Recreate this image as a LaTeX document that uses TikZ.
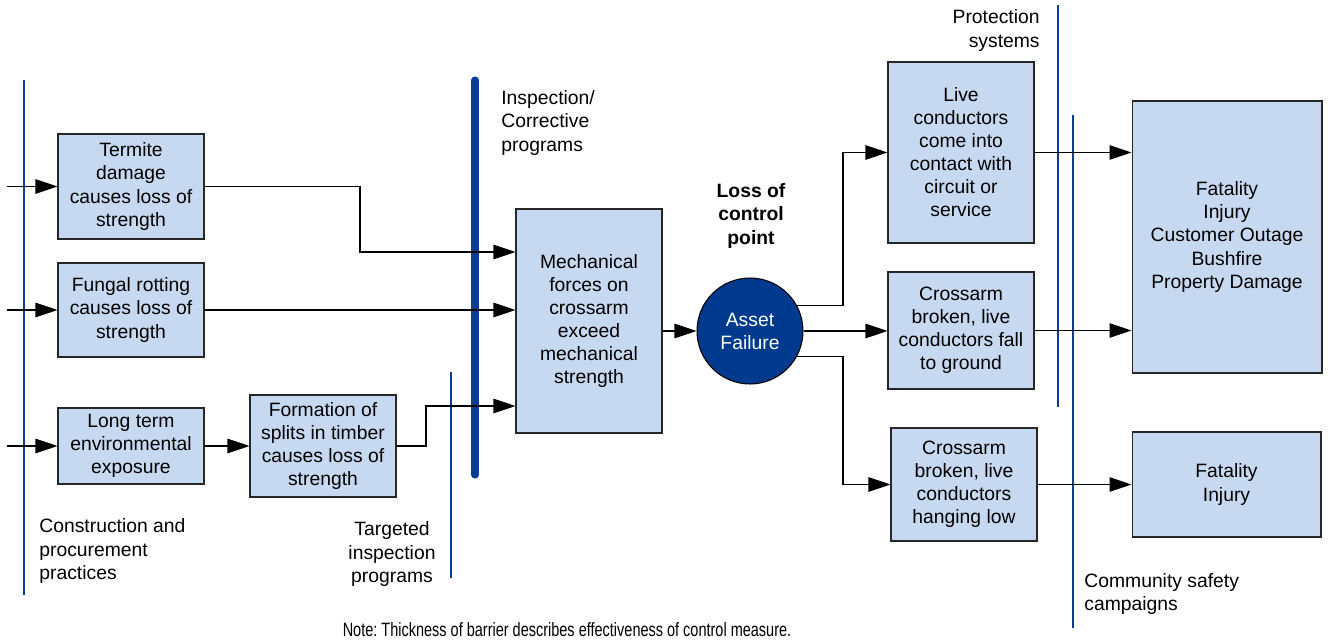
\documentclass[tikz,border=0pt]{standalone}
\usepackage{fontspec}
\setmainfont{Liberation Sans}
\newfontfamily\narrowfont[FakeStretch=0.75]{Liberation Sans}
\usetikzlibrary{arrows.meta, calc}

\definecolor{boxblue}{HTML}{C6D9F0}
\definecolor{failblue}{HTML}{003A8F}
\definecolor{barblue}{HTML}{0A3C99}

\frenchspacing
\begin{document}
\begin{tikzpicture}[x=0.02cm, y=-0.02cm,
    every node/.style={font=\fontsize{11}{13.1}\selectfont, align=center},
    box/.style={draw=black!85, line width=0.6pt, fill=boxblue, minimum width=2.92cm, inner sep=1pt},
    failure/.style={circle, draw=black, line width=0.6pt, fill=failblue, text=white, minimum size=2.12cm, inner sep=0pt},
    flow/.style={-{Triangle[length=0.44cm, width=0.29cm]}, line width=0.6pt},
    barrier/.style={draw=barblue, line width=#1},
    note/.style={inner sep=0pt}]

    \useasboundingbox (0,0) rectangle (1333,642);

    % Barriers
    \draw[barrier=1.7pt] (24,80) -- (24,595);
    \draw[barrier=4pt, line cap=round] (475,80) -- (475,475);
    \draw[barrier=1pt] (451,372) -- (451,578);
    \draw[barrier=1pt] (1058,5) -- (1058,407);
    \draw[barrier=1pt] (1073,115) -- (1073,628);

    % Nodes
    \node (termite) [box, minimum height=2.1cm] at (131,186.5) {Termite\\ damage\\ causes loss of\\ strength};
    \node (fungal) [box, minimum height=1.88cm] at (131,310) {Fungal rotting\\ causes loss of\\ strength};
    \node (longterm) [box, minimum height=1.52cm] at (131,446) {Long term\\ environmental\\ exposure};
    \node (formation) [box, minimum height=2.04cm] at (323,446) {Formation of\\ splits in timber\\ causes loss of\\ strength};
    \node (mechanical) [box, minimum height=4.48cm] at (589,321) {Mechanical\\ forces on\\ crossarm\\ exceed\\ mechanical\\ strength};
    \node (asset) [failure] at (750,331) {Asset\\ Failure};
    \node (live) [box, minimum height=3.62cm] at (961,152.5) {Live\\ conductors\\ come into\\ contact with\\ circuit or\\ service};
    \node (fall) [box, minimum height=2.34cm] at (961,330.5) {Crossarm\\ broken, live\\ conductors fall\\ to ground};
    \node (hanging) [box, minimum height=2.26cm] at (964,484.5) {Crossarm\\ broken, live\\ conductors\\ hanging low};
    \node (outcomes) [box, minimum width=3.8cm, minimum height=5.44cm] at (1227,237) {Fatality\\ Injury\\ Customer Outage\\ Bushfire\\ Property Damage};
    \node (fatality) [box, minimum width=3.78cm, minimum height=2.1cm] at (1226.5,484.5) {Fatality\\ Injury};

    % Texts
    \node (inspectText) [note, anchor=west, align=left] at (501,123) {Inspection/\\ Corrective\\ programs};
    \node (lossText) [note, font=\fontsize{11}{13.1}\selectfont\bfseries] at (751,216) {Loss of\\ control\\ point};
    \node (protectText) [note, anchor=east, align=right] at (1040,30.5) {Protection\\ systems};
    \node (constructText) [note, anchor=west, align=left] at (39,551) {Construction and\\ procurement\\ practices};
    \node (targetText) [note] at (392,554) {Targeted\\ inspection\\ programs};
    \node (communityText) [note, anchor=west, align=left] at (1084,594) {Community safety\\ campaigns};
    \node (noteText) [note, font=\fontsize{11}{13.1}\narrowfont] at (567,630) {Note: Thickness of barrier describes effectiveness of control measure.};

    % Coordinates
    \coordinate (in1) at (7,186.5);
    \coordinate (in2) at (7,310);
    \coordinate (in3) at (7,446);
    \coordinate (tbend) at (360,252);
    \coordinate (fbend) at (426,406);
    \coordinate (split) at (843,331);

    % Arrows
    \draw[flow] (in1) -- (termite);
    \draw[flow] (in2) -- (fungal);
    \draw[flow] (in3) -- (longterm);
    \draw[flow] (longterm) -- (formation);
    \draw[flow] (termite.east) -| (tbend) -- (tbend -| mechanical.west);
    \draw[flow] (fungal.east) -- (fungal.east -| mechanical.west);
    \draw[flow] (formation.east) -| (fbend) -- (fbend -| mechanical.west);
    \draw[flow] (mechanical.east |- asset) -- (asset);
    \draw[flow] (asset.28) -- (asset.28 -| split) |- (live.west);
    \draw[flow] (asset) -- (asset -| fall.west);
    \draw[flow] (asset.-28) -- (asset.-28 -| split) |- (hanging.west);
    \draw[flow] (live.east) -- (live.east -| outcomes.west);
    \draw[flow] (fall.east) -- (fall.east -| outcomes.west);
    \draw[flow] (hanging) -- (fatality);
\end{tikzpicture}
\end{document}
